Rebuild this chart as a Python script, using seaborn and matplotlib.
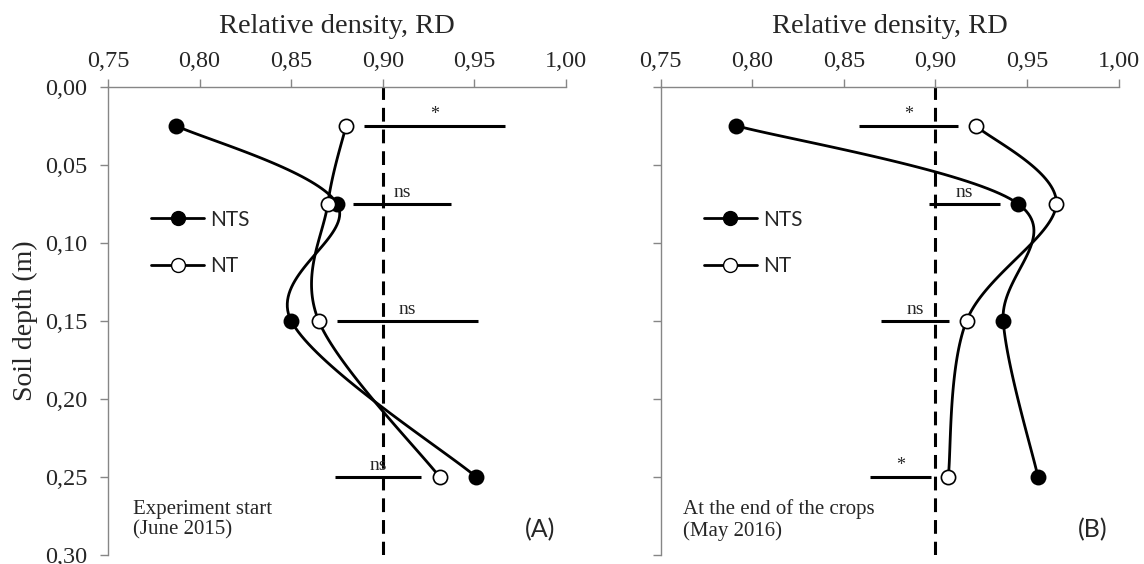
import numpy as np
import seaborn as sns
import matplotlib
matplotlib.use("Agg")
import matplotlib.pyplot as plt
from matplotlib.lines import Line2D
from matplotlib.ticker import FuncFormatter, MultipleLocator

# depth of each sampling layer (m)
depth = [0.025, 0.075, 0.15, 0.25]

# relative density, experiment start (June 2015)
start_nts = [0.787, 0.875, 0.850, 0.951]
start_nt = [0.880, 0.870, 0.865, 0.931]
start_lo = [0.890, 0.884, 0.875, 0.874]
start_hi = [0.967, 0.937, 0.952, 0.921]
start_sig = ["*", "ns", "ns", "ns"]

# relative density, end of the crops (May 2016)
end_nts = [0.791, 0.945, 0.937, 0.956]
end_nt = [0.922, 0.966, 0.917, 0.907]
end_lo = [0.8585, 0.8965, 0.8705, 0.8645]
end_hi = [0.9123, 0.935, 0.9075, 0.8975]
end_sig = ["*", "ns", "ns", "*"]

critical_rd = 0.90
panels = [
    ("Experiment start\n(June 2015)", "(A)", start_nts, start_nt, start_lo, start_hi, start_sig),
    ("At the end of the crops\n(May 2016)", "(B)", end_nts, end_nt, end_lo, end_hi, end_sig),
]

SERIF = ["Liberation Serif", "DejaVu Serif"]
SANS = ["Lato", "DejaVu Sans"]
GREY = "#868686"

sns.set_theme(style="white")
plt.rcParams["font.family"] = SERIF

# pixel scale of each axis, used so the smoothing behaves like a spreadsheet chart
SX, SY = 1828.0, 1562.0


def smooth(xs, ys, n=40):
    # cubic bezier through the points (Catmull-Rom style control points)
    p = np.column_stack([np.asarray(xs) * SX, np.asarray(ys) * SY])
    ext = np.vstack([p[0], p, p[-1]])
    t = np.linspace(0, 1, n)[:, None]
    segs = []
    for i in range(len(p) - 1):
        p0, p1, p2, p3 = ext[i], ext[i + 1], ext[i + 2], ext[i + 3]
        c1 = p1 + (p2 - p0) / 6
        c2 = p2 - (p3 - p1) / 6
        seg = (1 - t) ** 3 * p1 + 3 * (1 - t) ** 2 * t * c1 + 3 * (1 - t) * t ** 2 * c2 + t ** 3 * p2
        segs.append(seg if i == 0 else seg[1:])
    pts = np.vstack(segs)
    return pts[:, 0] / SX, pts[:, 1] / SY


fig = plt.figure(figsize=(11.44, 5.64), dpi=100)
lefts = [0.0944, 0.5775]
comma = FuncFormatter(lambda v, pos: f"{v:.2f}".replace(".", ","))

for k, (note, tag, nts, nt, lo, hi, sig) in enumerate(panels):
    ax = fig.add_axes([lefts[k], 0.016, 0.4003, 0.8305])

    # significance bars
    ax.hlines(depth, lo, hi, color="black", lw=2.2, zorder=2)
    for d, a, b, s in zip(depth, lo, hi, sig):
        ax.annotate(s, ((a + b) / 2, d), xytext=(0, 2), textcoords="offset points",
                    ha="center", va="bottom", fontsize=14 if s == "ns" else 13,
                    family=SERIF)

    ax.axvline(critical_rd, color="black", lw=2.2, dashes=(4.5, 2.6), zorder=2)

    for vals, face in [(nts, "black"), (nt, "white")]:
        cx, cy = smooth(vals, depth)
        sns.lineplot(x=cx, y=cy, sort=False, estimator=None, ax=ax,
                     color="black", lw=2, zorder=3)
        sns.scatterplot(x=vals, y=depth, ax=ax, s=105, color=face,
                        edgecolor="black", linewidth=1.2, zorder=4)

    ax.set_xlim(0.75, 1.0)
    ax.set_ylim(0.30, 0.0)
    ax.xaxis.tick_top()
    ax.xaxis.set_label_position("top")
    ax.xaxis.set_major_locator(MultipleLocator(0.05))
    ax.yaxis.set_major_locator(MultipleLocator(0.05))
    ax.xaxis.set_major_formatter(comma)
    ax.yaxis.set_major_formatter(comma)
    ax.tick_params(axis="x", direction="out", length=6, width=1, color=GREY,
                   labelsize=17.5, pad=4.3, top=True, bottom=False)
    ax.tick_params(axis="y", direction="out", length=6, width=1, color=GREY,
                   labelsize=17.5, pad=9, left=True)
    for side in ["right", "bottom"]:
        ax.spines[side].set_visible(False)
    for side in ["top", "left"]:
        ax.spines[side].set_color(GREY)
        ax.spines[side].set_linewidth(1)
    ax.set_xlabel("Relative density, RD", fontsize=20.5, labelpad=13.4)
    if k == 0:
        ax.set_ylabel("Soil depth (m)", fontsize=20, labelpad=5)
    else:
        ax.set_ylabel("")
        ax.set_yticklabels([])

    handles = [
        Line2D([], [], color="black", lw=2, marker="o", ms=10, mfc="black", mec="black"),
        Line2D([], [], color="black", lw=2, marker="o", ms=10, mfc="white", mec="black"),
    ]
    ax.legend(handles, ["NTS", "NT"], loc="upper left", bbox_to_anchor=(0.094, 0.737),
              frameon=False, prop={"family": SANS, "size": 15}, handlelength=2.55,
              handletextpad=0.3, labelspacing=1.25, borderpad=0, borderaxespad=0)

    ax.text(0.055 if k == 0 else 0.049, 0.075, note, transform=ax.transAxes,
            ha="left", va="center", fontsize=15, family=SERIF, linespacing=1.12)
    ax.text(0.943, 0.054, tag, transform=ax.transAxes, ha="center", va="center",
            fontsize=18, family=SANS)

fig.savefig("out.png", dpi=100)
